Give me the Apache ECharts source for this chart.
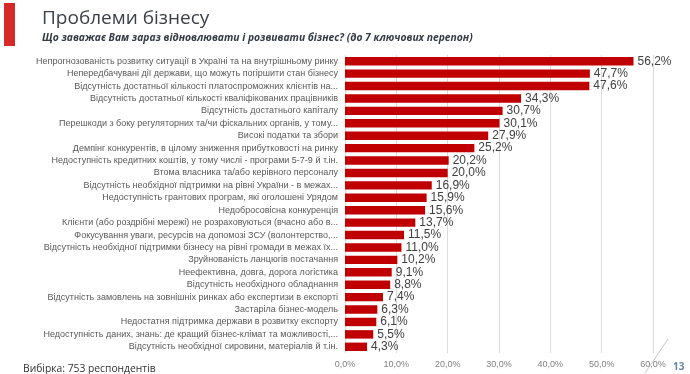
<!DOCTYPE html>
<html>
<head>
<meta charset="utf-8">
<script src="https://cdn.jsdelivr.net/npm/echarts@6/dist/echarts.min.js"></script>
<style>html,body{margin:0;padding:0;background:#fff;}#c{width:690px;height:374px;}</style>
</head>
<body>
<div id="c"></div>
<script>
const categories = [
  "Непрогнозованість розвитку ситуації в Україні та на внутрішньому ринку",
  "Непередбачувані дії держави, що можуть погіршити стан бізнесу",
  "Відсутність достатньої кількості платоспроможних клієнтів на...",
  "Відсутність достатньої кількості кваліфікованих працівників",
  "Відсутність достатнього капіталу",
  "Перешкоди з боку регуляторних та/чи фіскальних органів, у тому...",
  "Високі податки та збори",
  "Демпінг конкурентів, в цілому зниження прибутковості на ринку",
  "Недоступність кредитних коштів, у тому числі - програми 5-7-9 й т.ін.",
  "Втома власника та/або керівного персоналу",
  "Відсутність необхідної підтримки на рівні України - в межах...",
  "Недоступність грантових програм, які оголошені Урядом",
  "Недобросовісна конкуренція",
  "Клієнти (або роздрібні мережі) не розраховуються (вчасно або в...",
  "Фокусування уваги, ресурсів на допомозі ЗСУ (волонтерство,...",
  "Відсутність необхідної підтримки бізнесу на рівні громади в межах їх...",
  "Зруйнованість ланцюгів постачання",
  "Неефективна, довга, дорога логістика",
  "Відсутність необхідного обладнання",
  "Відсутність замовлень на зовнішніх ринках або експертизи в експорті",
  "Застаріла бізнес-модель",
  "Недостатня підтримка держави в розвитку експорту",
  "Недоступність даних, знань: де кращий бізнес-клімат та можливості,...",
  "Відсутність необхідної сировини, матеріалів й т.ін."
];
const values = [56.2, 47.7, 47.6, 34.3, 30.7, 30.1, 27.9, 25.2, 20.2, 20.0, 16.9, 15.9, 15.6, 13.7, 11.5, 11.0, 10.2, 9.1, 8.8, 7.4, 6.3, 6.1, 5.5, 4.3];
const xTicks = [0, 10, 20, 30, 40, 50, 60];

const fmt = v => v.toFixed(1).replace('.', ',') + '%';
const chart = echarts.init(document.getElementById('c'), null, {renderer: 'canvas'});
chart.setOption({
  animation: false,
  backgroundColor: '#fff',
  title: [{
    text: 'Проблеми бізнесу',
    left: 37, top: 4,
    textStyle: {fontFamily: 'Open Sans', fontSize: 19, fontWeight: 'normal', color: '#3a3f48'}
  }, {
    text: 'Що заважає Вам зараз відновлювати і розвивати бізнес? (до 7 ключових перепон)',
    left: 37, top: 28,
    textStyle: {fontFamily: 'Open Sans', fontSize: 10.3, fontStyle: 'italic', fontWeight: 'bold', color: '#333b45'}
  }, {
    text: 'Вибірка: 753 респондентів',
    left: 18, top: 359,
    textStyle: {fontFamily: 'Open Sans', fontSize: 10.3, fontWeight: 'normal', color: '#333'}
  }, {
    text: '13',
    left: 668, top: 357,
    textStyle: {fontFamily: 'Open Sans', fontSize: 10, fontWeight: 'bold', color: '#6a86a6'}
  }],
  graphic: [
    {type: 'rect', shape: {x: 4, y: 3, width: 11, height: 43}, style: {fill: '#d42a2a'}},
    {type: 'line', shape: {x1: 645, y1: 373, x2: 668, y2: 339}, style: {stroke: '#c8c8c8', lineWidth: 1}}
  ],
  grid: {left: 345, right: 37, top: 55, bottom: 21, containLabel: false},
  xAxis: {
    type: 'value', min: 0, max: 60, interval: 10,
    axisLine: {show: false}, axisTick: {show: false},
    splitLine: {lineStyle: {color: '#dcdcdc', width: 1}},
    axisLabel: {formatter: v => xTicks.includes(v) ? fmt(v) : '', fontFamily: 'Liberation Sans', fontSize: 9, color: '#7f7f7f', margin: 7}
  },
  yAxis: {
    type: 'category', inverse: true, data: categories,
    axisLine: {show: false}, axisTick: {show: false},
    axisLabel: {fontFamily: 'Liberation Sans', fontSize: 9, color: '#595959', margin: 7}
  },
  series: [{
    type: 'bar', data: values, barCategoryGap: '32%',
    itemStyle: {color: '#c00000'},
    label: {show: true, position: 'right', distance: 4, formatter: p => fmt(p.value), fontFamily: 'Liberation Sans', fontSize: 12, color: '#404040'}
  }]
});
</script>
</body>
</html>
